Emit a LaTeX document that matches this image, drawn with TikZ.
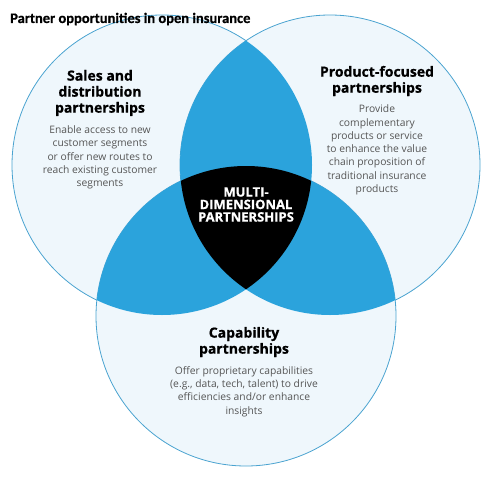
\documentclass[tikz,border=0pt]{standalone}
\usepackage{fontspec}
\setmainfont{Open Sans}
\newfontfamily\titlefont{Carlito}[BoldFeatures={FakeBold=0.6}]
\newfontfamily\headfont{Open Sans}[BoldFeatures={FakeBold=0.7}]
\definecolor{lightfill}{HTML}{EFF7FC}
\definecolor{ringcol}{HTML}{4AA3D0}
\definecolor{lensblue}{HTML}{2BA3DC}
\definecolor{bodygrey}{HTML}{555555}
\tikzset{
  ring/.style={draw=ringcol, line width=0.8pt, fill=lightfill},
  headtext/.style={align=center, inner sep=0pt, text=black, font=\headfont\bfseries\fontsize{14}{16}\selectfont},
  bodytext/.style={align=center, inner sep=0pt, text=bodygrey, font=\fontsize{10.3}{13.3}\selectfont},
  coretext/.style={align=center, inner sep=0pt, text=white, font=\headfont\bfseries\fontsize{13}{12.5}\selectfont},
}
\begin{document}
\begin{tikzpicture}[x=1pt,y=-1pt]
\useasboundingbox (0,0) rectangle (495,482);
\coordinate (L) at (162,165);
\coordinate (R) at (330,165);
\coordinate (B) at (246,316);
% light circles
\path[ring] (L) circle[radius=150pt];
\path[ring] (R) circle[radius=150pt];
\path[ring] (B) circle[radius=150pt];
% pairwise lenses
\begin{scope}
  \clip (L) circle[radius=150pt];
  \fill[lensblue] (R) circle[radius=150pt];
  \fill[lensblue] (B) circle[radius=150pt];
\end{scope}
\begin{scope}
  \clip (R) circle[radius=150pt];
  \fill[lensblue] (B) circle[radius=150pt];
\end{scope}
% triple intersection
\begin{scope}
  \clip (L) circle[radius=150pt];
  \clip (R) circle[radius=150pt];
  \fill[black] (B) circle[radius=150pt];
\end{scope}
% texts
\node[anchor=west, inner sep=0pt, font=\titlefont\bfseries\fontsize{14.5}{16}\selectfont] (title) at (10,19) {Partner opportunities in open insurance};
\node[headtext] (salesh) at (100,93) {Sales and\\distribution\\partnerships};
\node[bodytext] (salesb) at (100,157.5) {Enable access to new\\customer segments\\or offer new routes to\\reach existing customer\\segments};
\node[headtext] (prodh) at (377,81) {Product-focused\\partnerships};
\node[bodytext] (prodb) at (377,150) {Provide\\complementary\\products or service\\to enhance the value\\chain proposition of\\traditional insurance\\products};
\node[coretext] (core) at (246,204.5) {MULTI-\\DIMENSIONAL\\PARTNERSHIPS};
\node[headtext] (caph) at (244,342) {Capability\\partnerships};
\node[bodytext] (capb) at (244,391.5) {Offer proprietary capabilities\\(e.g., data, tech, talent) to drive\\efficiencies and/or enhance\\insights};
\end{tikzpicture}
\end{document}
